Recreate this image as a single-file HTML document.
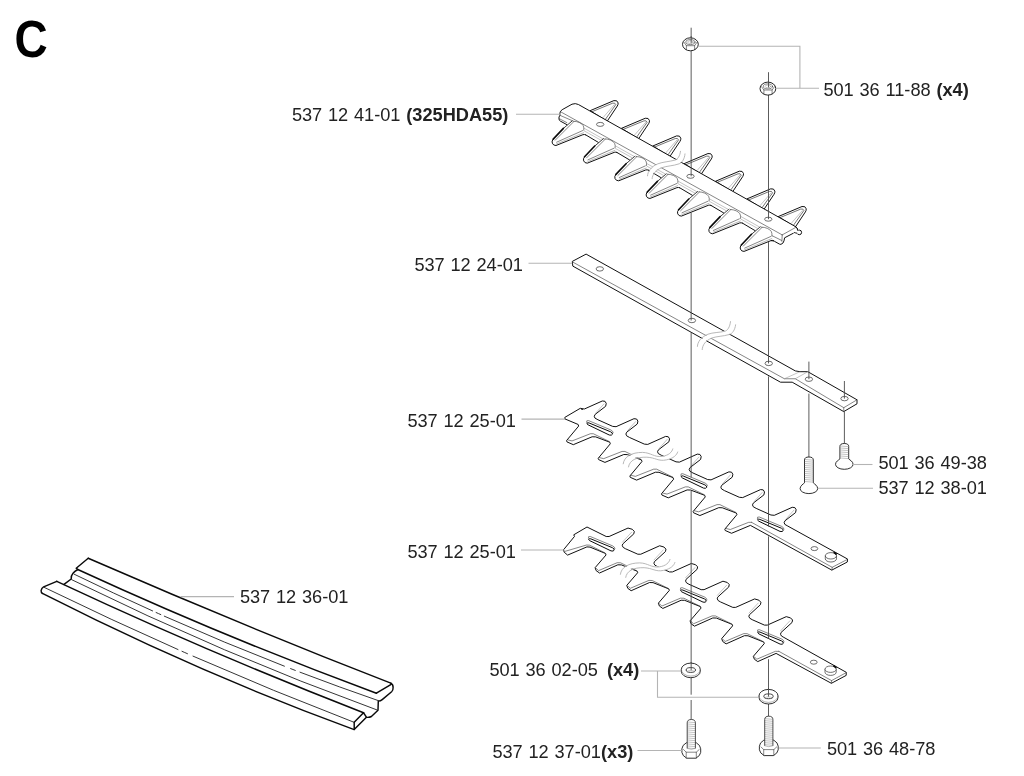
<!DOCTYPE html>
<html lang="en">
<head>
<meta charset="utf-8">
<title>C</title>
<style>
html,body{margin:0;padding:0;background:#fff;}
body{width:1024px;height:776px;overflow:hidden;font-family:"Liberation Sans",sans-serif;}
svg{display:block;will-change:transform;}
.k{fill:none;stroke:#0a0a0a;stroke-width:0.98;stroke-linejoin:round;stroke-linecap:round;}
.t{fill:none;stroke:#3a3a3a;stroke-width:0.62;stroke-linejoin:round;stroke-linecap:round;}
.l{fill:none;stroke:#888;stroke-width:0.5;stroke-linecap:round;}
.g{fill:none;stroke:#b4b4b4;stroke-width:1.1;}
.c{fill:none;stroke:#4a4a4a;stroke-width:0.9;}
.w{fill:#fff;stroke:#0a0a0a;stroke-width:0.98;stroke-linejoin:round;}
.wt{fill:#fff;stroke:#222;stroke-width:0.65;stroke-linejoin:round;}
.wf{fill:#fff;stroke:none;}
#guard .k{stroke-width:1.45;}
#guard .t{stroke-width:0.85;stroke:#111;}
.br{fill:none;stroke:#fff;stroke-width:5;stroke-linecap:round;}
.bl{fill:none;stroke:#b0b0b0;stroke-width:0.9;stroke-linecap:round;}
text{font-family:"Liberation Sans",sans-serif;font-size:18.2px;fill:#222;word-spacing:0.7px;}
.b{font-weight:bold;}
.big{font-size:51.2px;font-weight:bold;fill:#000;}
</style>
</head>
<body>
<svg width="1024" height="776" viewBox="0 0 1024 776">
<rect x="0" y="0" width="1024" height="776" fill="#fff"/>
<g id="guard">
<path class="wf" d="M88.2 558.22Q239.5 624.18 390.8 683.19 L393.1 687.3 L392.4 691 L381.5 700.2 L378.3 701.2 L378 710.5 L371.2 716.7 L366 717.2 L354.7 729.6 L42.4 593.45 L41.1 591.4 L42.9 587.3 L56.8 581.3 L64 584.4 L71.2 579 L71.2 575.9 L74.3 571.8 L77.9 569.7 L76.2 568.2 Z"/>
<path class="k" d="M88.2 558.22 Q239.5 624.18 390.8 683.19"/>
<path class="k" d="M77.8 569.49 Q227.1 638.24 376.4 693.2"/>
<path class="k" d="M56.8 581.33 Q210.15 653.18 363.5 712.72"/>
<path class="k" d="M42.4 593.45 Q198.3 672.72 354.2 729.58"/>
<path class="t" d="M71.8 579.74 Q224.4 654.61 377 709.95"/>
<path class="t" d="M74.2 574.21 Q113.4 593.29 152.6 610.93"/>
<path class="t" d="M156.1 612.51 Q158.45 613.56 160.8 614.61"/>
<path class="t" d="M164.3 616.17 Q224.35 642.87 284.4 666.2"/>
<path class="t" d="M290.6 668.6 Q292.95 669.51 295.3 670.41"/>
<path class="t" d="M300 672.2 Q339.25 687.17 378.5 700.69"/>
<path class="t" d="M44.4 587.48 Q111.2 619.99 178 649.54"/>
<path class="t" d="M182 651.31 Q184.75 652.52 187.5 653.73"/>
<path class="t" d="M193 656.14 Q273.6 691.4 354.2 722.35"/>
<path class="k" d="M88.2 558.22 L76.2 568.2 L77.8 569.49"/>
<path class="k" d="M77.8 569.49 Q74.5 571.3 73 573.3 Q70.8 576 71.2 579 L64 584.4"/>
<path class="k" d="M56.8 581.33 L43.6 586.9 Q41.5 588 41.1 590.6 Q41 592.6 42.4 593.45"/>
<path class="k" d="M390.8 683.19 Q393.3 684.6 393.1 687.6 Q393.2 690.4 391.6 691.8 L382.2 699.6 Q380.6 700.9 378.3 701.1 L378 710.3 L371.4 716.5 Q369.4 717.6 366.6 717.3 L363.5 712.72"/>
<path class="k" d="M376.4 693.2 L391.2 684.3"/>
<path class="k" d="M363.5 712.72 L354.2 722.35 L354.2 729.58 L366.2 717.5"/>
</g>
<g id="topblade">
<g transform="translate(0 0)"><path class="w" d="M590.1 110.7 L613.9 100.6 Q617.4 99.9 618.1 102.9 Q618.3 104.5 617.3 106 L607.2 121.2 Z"/><path class="t" style="stroke:#2a2a2a;stroke-width:0.65" d="M592 111.7 L612.6 103.2 Q615.2 102.5 615.8 104.6 L605.5 119.2"/><path class="l" d="M614.2 104.8 L603.2 117.4"/></g>
<g transform="translate(31.35 17.65)"><path class="w" d="M590.1 110.7 L613.9 100.6 Q617.4 99.9 618.1 102.9 Q618.3 104.5 617.3 106 L607.2 121.2 Z"/><path class="t" style="stroke:#2a2a2a;stroke-width:0.65" d="M592 111.7 L612.6 103.2 Q615.2 102.5 615.8 104.6 L605.5 119.2"/><path class="l" d="M614.2 104.8 L603.2 117.4"/></g>
<g transform="translate(62.7 35.3)"><path class="w" d="M590.1 110.7 L613.9 100.6 Q617.4 99.9 618.1 102.9 Q618.3 104.5 617.3 106 L607.2 121.2 Z"/><path class="t" style="stroke:#2a2a2a;stroke-width:0.65" d="M592 111.7 L612.6 103.2 Q615.2 102.5 615.8 104.6 L605.5 119.2"/><path class="l" d="M614.2 104.8 L603.2 117.4"/></g>
<g transform="translate(94.05 52.95)"><path class="w" d="M590.1 110.7 L613.9 100.6 Q617.4 99.9 618.1 102.9 Q618.3 104.5 617.3 106 L607.2 121.2 Z"/><path class="t" style="stroke:#2a2a2a;stroke-width:0.65" d="M592 111.7 L612.6 103.2 Q615.2 102.5 615.8 104.6 L605.5 119.2"/><path class="l" d="M614.2 104.8 L603.2 117.4"/></g>
<g transform="translate(125.4 70.6)"><path class="w" d="M590.1 110.7 L613.9 100.6 Q617.4 99.9 618.1 102.9 Q618.3 104.5 617.3 106 L607.2 121.2 Z"/><path class="t" style="stroke:#2a2a2a;stroke-width:0.65" d="M592 111.7 L612.6 103.2 Q615.2 102.5 615.8 104.6 L605.5 119.2"/><path class="l" d="M614.2 104.8 L603.2 117.4"/></g>
<g transform="translate(156.75 88.25)"><path class="w" d="M590.1 110.7 L613.9 100.6 Q617.4 99.9 618.1 102.9 Q618.3 104.5 617.3 106 L607.2 121.2 Z"/><path class="t" style="stroke:#2a2a2a;stroke-width:0.65" d="M592 111.7 L612.6 103.2 Q615.2 102.5 615.8 104.6 L605.5 119.2"/><path class="l" d="M614.2 104.8 L603.2 117.4"/></g>
<g transform="translate(188.1 105.9)"><path class="w" d="M590.1 110.7 L613.9 100.6 Q617.4 99.9 618.1 102.9 Q618.3 104.5 617.3 106 L607.2 121.2 Z"/><path class="t" style="stroke:#2a2a2a;stroke-width:0.65" d="M592 111.7 L612.6 103.2 Q615.2 102.5 615.8 104.6 L605.5 119.2"/><path class="l" d="M614.2 104.8 L603.2 117.4"/></g>
<path class="wf" d="M578.4 104.5 L795.7 226.7 L798 230.2 L794.5 232.6 L784.6 237.8 L784 240.8 L781 244.3 L779.3 244 L774.6 241.4 L773.7 240.7 L771 240.6 L744 251.4 L741.7 250.8 L740.1 247.5 L740.8 245.5 L754.95 230.55 L742.35 223.05 L739.65 222.95 L712.65 233.75 L710.35 233.15 L708.75 229.85 L709.45 227.85 L723.6 212.9 L711 205.4 L708.3 205.3 L681.3 216.1 L679 215.5 L677.4 212.2 L678.1 210.2 L692.25 195.25 L679.65 187.75 L676.95 187.65 L649.95 198.45 L647.65 197.85 L646.05 194.55 L646.75 192.55 L660.9 177.6 L648.3 170.1 L645.6 170 L618.6 180.8 L616.3 180.2 L614.7 176.9 L615.4 174.9 L629.55 159.95 L616.95 152.45 L614.25 152.35 L587.25 163.15 L584.95 162.55 L583.35 159.25 L584.05 157.25 L598.2 142.3 L585.6 134.8 L582.9 134.7 L555.9 145.5 L553.6 144.9 L552 141.6 L552.7 139.6 L566.85 124.65 L559.4 120.7 L559 118.4 L559.9 115.3 L559.9 112.6 L561.7 109.9 L572 104 L575.2 103.3 Z"/>
<path class="k" d="M795.7 226.7 L578.4 104.5 Q575.4 102.9 572 104.2 L562.2 109.7 Q560 111 559.9 113.2 L559.9 115.3 Q558.6 117 559 118.8 Q559 120.4 560.2 121 L566.85 124.65"/>
<path class="k" d="M795.7 226.7 Q797.6 228 798 230.2 M794.5 232.6 L784.6 237.8 L784 240.8 Q783.4 243.6 781 244.3 Q780 244.5 779.3 244 L774.6 241.4 Q773.6 240.6 771.6 240.7"/>
<circle class="w" cx="799.3" cy="232.4" r="2.3"/>
<path class="wf" d="M794 229 L798.6 230 L797.6 234.4 L793.4 233.4 Z"/>
<path class="k" d="M795.7 226.7 Q797.6 228 797.8 230.4 M796.9 233.2 Q795.6 233 794.5 232.6"/>
<g transform="translate(0 0)"><path class="k" style="stroke-width:0.8" d="M572.2 120.9 L563.4 128.4"/><path class="k" style="stroke-width:1.6" d="M563.4 128.4 L553.2 139.1"/><path class="k" d="M553.2 139.1 Q551.4 141.2 552.3 143.2 Q553.3 145.6 556 145.5 L582.9 134.7 Q584.4 134.2 585.6 134.8"/><path class="t" d="M574 121.4 L555.2 140.2 M556.6 142.2 L582.6 130.6"/><path class="l" style="stroke:#777" d="M556.4 144 L583.6 132.7"/><path class="t" d="M573.4 121.2 Q580.5 121.6 583.2 125.6 Q584.2 127.6 583.8 130.2"/></g>
<g transform="translate(31.35 17.65)"><path class="k" style="stroke-width:0.8" d="M572.2 120.9 L563.4 128.4"/><path class="k" style="stroke-width:1.6" d="M563.4 128.4 L553.2 139.1"/><path class="k" d="M553.2 139.1 Q551.4 141.2 552.3 143.2 Q553.3 145.6 556 145.5 L582.9 134.7 Q584.4 134.2 585.6 134.8"/><path class="t" d="M574 121.4 L555.2 140.2 M556.6 142.2 L582.6 130.6"/><path class="l" style="stroke:#777" d="M556.4 144 L583.6 132.7"/><path class="t" d="M573.4 121.2 Q580.5 121.6 583.2 125.6 Q584.2 127.6 583.8 130.2"/></g>
<g transform="translate(62.7 35.3)"><path class="k" style="stroke-width:0.8" d="M572.2 120.9 L563.4 128.4"/><path class="k" style="stroke-width:1.6" d="M563.4 128.4 L553.2 139.1"/><path class="k" d="M553.2 139.1 Q551.4 141.2 552.3 143.2 Q553.3 145.6 556 145.5 L582.9 134.7 Q584.4 134.2 585.6 134.8"/><path class="t" d="M574 121.4 L555.2 140.2 M556.6 142.2 L582.6 130.6"/><path class="l" style="stroke:#777" d="M556.4 144 L583.6 132.7"/><path class="t" d="M573.4 121.2 Q580.5 121.6 583.2 125.6 Q584.2 127.6 583.8 130.2"/></g>
<g transform="translate(94.05 52.95)"><path class="k" style="stroke-width:0.8" d="M572.2 120.9 L563.4 128.4"/><path class="k" style="stroke-width:1.6" d="M563.4 128.4 L553.2 139.1"/><path class="k" d="M553.2 139.1 Q551.4 141.2 552.3 143.2 Q553.3 145.6 556 145.5 L582.9 134.7 Q584.4 134.2 585.6 134.8"/><path class="t" d="M574 121.4 L555.2 140.2 M556.6 142.2 L582.6 130.6"/><path class="l" style="stroke:#777" d="M556.4 144 L583.6 132.7"/><path class="t" d="M573.4 121.2 Q580.5 121.6 583.2 125.6 Q584.2 127.6 583.8 130.2"/></g>
<g transform="translate(125.4 70.6)"><path class="k" style="stroke-width:0.8" d="M572.2 120.9 L563.4 128.4"/><path class="k" style="stroke-width:1.6" d="M563.4 128.4 L553.2 139.1"/><path class="k" d="M553.2 139.1 Q551.4 141.2 552.3 143.2 Q553.3 145.6 556 145.5 L582.9 134.7 Q584.4 134.2 585.6 134.8"/><path class="t" d="M574 121.4 L555.2 140.2 M556.6 142.2 L582.6 130.6"/><path class="l" style="stroke:#777" d="M556.4 144 L583.6 132.7"/><path class="t" d="M573.4 121.2 Q580.5 121.6 583.2 125.6 Q584.2 127.6 583.8 130.2"/></g>
<g transform="translate(156.75 88.25)"><path class="k" style="stroke-width:0.8" d="M572.2 120.9 L563.4 128.4"/><path class="k" style="stroke-width:1.6" d="M563.4 128.4 L553.2 139.1"/><path class="k" d="M553.2 139.1 Q551.4 141.2 552.3 143.2 Q553.3 145.6 556 145.5 L582.9 134.7 Q584.4 134.2 585.6 134.8"/><path class="t" d="M574 121.4 L555.2 140.2 M556.6 142.2 L582.6 130.6"/><path class="l" style="stroke:#777" d="M556.4 144 L583.6 132.7"/><path class="t" d="M573.4 121.2 Q580.5 121.6 583.2 125.6 Q584.2 127.6 583.8 130.2"/></g>
<g transform="translate(188.1 105.9)"><path class="k" style="stroke-width:0.8" d="M572.2 120.9 L563.4 128.4"/><path class="k" style="stroke-width:1.6" d="M563.4 128.4 L553.2 139.1"/><path class="k" d="M553.2 139.1 Q551.4 141.2 552.3 143.2 Q553.3 145.6 556 145.5 L582.9 134.7 Q584.4 134.2 585.6 134.8"/><path class="t" d="M574 121.4 L555.2 140.2 M556.6 142.2 L582.6 130.6"/><path class="l" style="stroke:#777" d="M556.4 144 L583.6 132.7"/><path class="t" d="M573.4 121.2 Q580.5 121.6 583.2 125.6 Q584.2 127.6 583.8 130.2"/></g>
<g transform="translate(0 0)"><path class="k" d="M585.6 134.8 L598.2 142.3"/><path class="l" d="M584 128.2 L603.2 139 M584.4 131 L600.6 140"/></g>
<g transform="translate(31.35 17.65)"><path class="k" d="M585.6 134.8 L598.2 142.3"/><path class="l" d="M584 128.2 L603.2 139 M584.4 131 L600.6 140"/></g>
<g transform="translate(62.7 35.3)"><path class="k" d="M585.6 134.8 L598.2 142.3"/><path class="l" d="M584 128.2 L603.2 139 M584.4 131 L600.6 140"/></g>
<g transform="translate(94.05 52.95)"><path class="k" d="M585.6 134.8 L598.2 142.3"/><path class="l" d="M584 128.2 L603.2 139 M584.4 131 L600.6 140"/></g>
<g transform="translate(125.4 70.6)"><path class="k" d="M585.6 134.8 L598.2 142.3"/><path class="l" d="M584 128.2 L603.2 139 M584.4 131 L600.6 140"/></g>
<g transform="translate(156.75 88.25)"><path class="k" d="M585.6 134.8 L598.2 142.3"/><path class="l" d="M584 128.2 L603.2 139 M584.4 131 L600.6 140"/></g>
<path class="t" d="M561.2 112.1 L782.2 234.9"/>
<path class="t" d="M559.9 115.3 L572.6 120.8 M559.2 118.6 L566.8 122.6"/>
<path class="t" d="M782.2 234.9 L795.4 227.6 M782.2 234.9 L781.9 241.4 M772.3 235.8 L781.6 240.4"/>
<ellipse class="wt" cx="600.2" cy="124.4" rx="3.7" ry="2"/>
<ellipse class="wt" cx="690.5" cy="176.3" rx="3.7" ry="2"/>
<ellipse class="wt" cx="768.3" cy="219.2" rx="3.7" ry="2"/>
<path class="br" style="stroke-width:4.2" d="M682.8 152.4 C682.3 157.5 679.8 161 677.2 161.9 C671 163.9 665 163.8 659.8 165.7 C653.3 168.3 650 173 649.8 177.4"/>
<path class="bl" d="M680.5 151.3 C680 156 677.5 159.4 675.3 160 C669 161.8 663 161.8 657.9 163.8 C651 166.6 647.7 171.5 647.5 175.8"/>
<path class="bl" d="M685 153.9 C684.6 159 682 162.6 679.2 163.8 C673 166 667 165.8 661.8 167.7 C655.6 170 652.3 174.6 652.1 178.7"/>
</g>
<g id="strap">
<path class="w" d="M586.1 254.1 L795.3 370.9 L800 371.7 L807.8 371.7 L857 399.8 L857 403.8 L843.75 411.6 L792.2 382.2 L780.5 382.2 L572.8 266.1 L572.3 261.4 Z"/>
<path class="t" d="M572.6 262 L784.4 378.75 L795.3 378.75 L843.75 407.7 L857 399.8 M843.75 407.7 L843.75 411.6"/>
<path class="l" d="M784.4 378.75 L800 371.7 M795.3 378.75 L807.8 371.7"/>
<ellipse class="wt" cx="599.8" cy="268.9" rx="3.7" ry="2.2"/>
<ellipse class="wt" cx="691.9" cy="320.5" rx="3.7" ry="2.2"/>
<ellipse class="wt" cx="768.75" cy="363.4" rx="3.7" ry="2.2"/>
<ellipse class="wt" cx="808.9" cy="379.2" rx="3.7" ry="2.2"/>
<ellipse class="wt" cx="844.5" cy="398.6" rx="3.7" ry="2.2"/>
<path class="br" style="stroke-width:4.2" d="M733.2 322.8 C732.5 328.5 730 332 727 332.9 C721 334.5 715 334.3 710 336.1 C703.3 338.8 700 343.5 699.8 348.4"/>
<path class="bl" d="M730.5 321.6 C730 327 727.5 330.6 724.8 331.3 C719 332.6 713 332.4 708 334.2 C701 337 697.5 342 697.4 346.4"/>
<path class="bl" d="M735.6 324.8 C735 330 732.5 333.6 729.3 334.5 C723 336.4 717 336.2 711.9 338 C705.5 340.6 702.4 345 702.2 349.6"/>
</g>
<g id="blade1">
<path class="w" d="M564.8 417.4 L580.3 408.3 L582.7 409.3 L581.05 408.68 L584.45 408.98 L602.3 400.98 L604.95 401.28 L606.25 403.38 L605.65 406.28 L595.05 414.48 L594.25 416.28 L594.95 418.08 L597.95 419.78 L612.7 426.4 L616.1 426.7 L633.95 418.7 L636.6 419 L637.9 421.1 L637.3 424 L626.7 432.2 L625.9 434 L626.6 435.8 L629.6 437.5 L644.35 444.12 L647.75 444.42 L665.6 436.42 L668.25 436.72 L669.55 438.82 L668.95 441.72 L658.35 449.92 L657.55 451.72 L658.25 453.52 L661.25 455.22 L676 461.84 L679.4 462.14 L697.25 454.14 L699.9 454.44 L701.2 456.54 L700.6 459.44 L690 467.64 L689.2 469.44 L689.9 471.24 L692.9 472.94 L707.65 479.56 L711.05 479.86 L728.9 471.86 L731.55 472.16 L732.85 474.26 L732.25 477.16 L721.65 485.36 L720.85 487.16 L721.55 488.96 L724.55 490.66 L739.3 497.28 L742.7 497.58 L760.55 489.58 L763.2 489.88 L764.5 491.98 L763.9 494.88 L753.3 503.08 L752.5 504.88 L753.2 506.68 L756.2 508.38 L770.95 515 L774.35 515.3 L792.2 507.3 L794.85 507.6 L796.15 509.7 L795.55 512.6 L784.95 520.8 L784.15 522.6 L784.85 524.4 L787.85 526.1 L847.5 559 L847.3 562 L831.8 570.1 L750.4 525.38 L731.55 533.28 L725.2 530.48 L724.8 529.18 L736.9 514.68 L736.4 513.08 L722.25 507.76 L718.75 507.66 L699.9 515.56 L693.55 512.76 L693.15 511.46 L705.25 496.96 L704.75 495.36 L690.6 490.04 L687.1 489.94 L668.25 497.84 L661.9 495.04 L661.5 493.74 L673.6 479.24 L673.1 477.64 L658.95 472.32 L655.45 472.22 L636.6 480.12 L630.25 477.32 L629.85 476.02 L641.95 461.52 L641.45 459.92 L627.3 454.6 L623.8 454.5 L604.95 462.4 L598.6 459.6 L598.2 458.3 L610.3 443.8 L609.8 442.2 L595.65 436.88 L592.15 436.78 L573.3 444.68 L566.95 441.88 L566.55 440.58 L578.65 426.08 L578.15 424.48 L564.9 418.9Z"/>
<path class="t" d="M567.75 439.88 L572.05 440.93 L590.4 433.73 L593.3 433.73 L609.25 441.53"/>
<path class="t" d="M599.4 457.6 L603.7 458.65 L622.05 451.45 L624.95 451.45 L640.9 459.25"/>
<path class="t" d="M631.05 475.32 L635.35 476.37 L653.7 469.17 L656.6 469.17 L672.55 476.97"/>
<path class="t" d="M662.7 493.04 L667 494.09 L685.35 486.89 L688.25 486.89 L704.2 494.69"/>
<path class="t" d="M694.35 510.76 L698.65 511.81 L717 504.61 L719.9 504.61 L735.85 512.41"/>
<path class="t" d="M726 528.48 L730.3 529.53 L748.65 522.33 L751.55 522.33"/>
<path class="t" d="M751.55 522.33 L832.2 567.3 L847.5 559.3"/>
<path class="t" d="M832.2 567.3 L831.9 570"/>
<path class="l" d="M603.95 403.88 L595.95 412.88"/>
<path class="l" d="M635.6 421.6 L627.6 430.6"/>
<path class="l" d="M667.25 439.32 L659.25 448.32"/>
<path class="l" d="M698.9 457.04 L690.9 466.04"/>
<path class="l" d="M730.55 474.76 L722.55 483.76"/>
<path class="l" d="M762.2 492.48 L754.2 501.48"/>
<path class="l" d="M793.85 510.2 L785.85 519.2"/>
<g transform="translate(-94.25 -53.1)"><path class="t" d="M680.8 475.5 Q680.3 473 682.8 473.7 L705.2 483.1 Q707.2 484 707.5 485.8"/><path class="w" style="stroke-width:1.0" d="M683.4 476.1 L704.9 484.9 Q707.1 485.9 706.7 487.3 Q706 488.8 703.5 488.1 L682.3 477.9 Q680.8 477 681.3 476.2 Q681.9 475.5 683.4 476.1 Z"/></g>
<g transform="translate(0 0)"><path class="t" d="M680.8 475.5 Q680.3 473 682.8 473.7 L705.2 483.1 Q707.2 484 707.5 485.8"/><path class="w" style="stroke-width:1.0" d="M683.4 476.1 L704.9 484.9 Q707.1 485.9 706.7 487.3 Q706 488.8 703.5 488.1 L682.3 477.9 Q680.8 477 681.3 476.2 Q681.9 475.5 683.4 476.1 Z"/></g>
<g transform="translate(76.5 43.3)"><path class="t" d="M680.8 475.5 Q680.3 473 682.8 473.7 L705.2 483.1 Q707.2 484 707.5 485.8"/><path class="w" style="stroke-width:1.0" d="M683.4 476.1 L704.9 484.9 Q707.1 485.9 706.7 487.3 Q706 488.8 703.5 488.1 L682.3 477.9 Q680.8 477 681.3 476.2 Q681.9 475.5 683.4 476.1 Z"/></g>
<ellipse class="wt" cx="814.4" cy="548.6" rx="3.4" ry="2"/>
<path class="wt" d="M825.3 555.8 L825.3 558.8 A5.6 3.2 0 0 0 836.5 558.8 L836.5 555.8 Z"/>
<ellipse class="wt" cx="830.9" cy="555.8" rx="5.6" ry="3.2"/>
<path class="k" style="stroke-width:1.8" d="M834.3 552.6 L836.1 554"/>
</g>
<g id="blade2">
<path class="w" d="M563.6 549.7 L574.5 536.4 L573.75 534.8 L587 527 L606.2 536.5 L609.1 536.5 L628 528.05 L632.3 529.3 L634.3 531.4 L633.8 533.85 L622.7 544 L622.3 545.7 L623.2 547.4 L625.6 548.8 L637.85 554.22 L640.75 554.22 L659.65 545.77 L663.95 547.02 L665.95 549.12 L665.45 551.57 L654.35 561.72 L653.95 563.42 L654.85 565.12 L657.25 566.52 L669.5 571.94 L672.4 571.94 L691.3 563.49 L695.6 564.74 L697.6 566.84 L697.1 569.29 L686 579.44 L685.6 581.14 L686.5 582.84 L688.9 584.24 L701.15 589.66 L704.05 589.66 L722.95 581.21 L727.25 582.46 L729.25 584.56 L728.75 587.01 L717.65 597.16 L717.25 598.86 L718.15 600.56 L720.55 601.96 L732.8 607.38 L735.7 607.38 L754.6 598.93 L758.9 600.18 L760.9 602.28 L760.4 604.73 L749.3 614.88 L748.9 616.58 L749.8 618.28 L752.2 619.68 L764.45 625.1 L767.35 625.1 L786.25 616.65 L790.55 617.9 L792.55 620 L792.05 622.45 L780.95 632.6 L780.55 634.3 L781.45 636 L783.85 637.4 L846.25 672.3 L846.2 675.4 L831.4 683.3 L776.1 653.4 L757.75 661.6 L754.35 659.2 L753.35 656.3 L764.25 643.6 L763.85 642.1 L748 635.78 L744.45 635.68 L726.1 643.88 L722.7 641.48 L721.7 638.58 L732.6 625.88 L732.2 624.38 L716.35 618.06 L712.8 617.96 L694.45 626.16 L691.05 623.76 L690.05 620.86 L700.95 608.16 L700.55 606.66 L684.7 600.34 L681.15 600.24 L662.8 608.44 L659.4 606.04 L658.4 603.14 L669.3 590.44 L668.9 588.94 L653.05 582.62 L649.5 582.52 L631.15 590.72 L627.75 588.32 L626.75 585.42 L637.65 572.72 L637.25 571.22 L621.4 564.9 L617.85 564.8 L599.5 573 L596.1 570.6 L595.1 567.7 L606 555 L605.6 553.5 L590 547.1 L586.9 546.9 L567.6 555.1 L564.2 552.2Z"/>
<path class="t" d="M596.2 568.4 L598.6 570.6 L617.2 562.7 L620.6 562.8 L636.4 570.6"/>
<path class="t" d="M627.85 586.12 L630.25 588.32 L648.85 580.42 L652.25 580.52 L668.05 588.32"/>
<path class="t" d="M659.5 603.84 L661.9 606.04 L680.5 598.14 L683.9 598.24 L699.7 606.04"/>
<path class="t" d="M691.15 621.56 L693.55 623.76 L712.15 615.86 L715.55 615.96 L731.35 623.76"/>
<path class="t" d="M722.8 639.28 L725.2 641.48 L743.8 633.58 L747.2 633.68 L763 641.48"/>
<path class="t" d="M754.45 657 L756.85 659.2 L775.45 651.3 L778.85 651.4"/>
<path class="t" d="M778.8 651.3 L831.6 680.6 L846.25 672.6"/>
<path class="t" d="M831.6 680.6 L831.4 683.2"/>
<path class="l" d="M631.6 532.2 L622.4 542.2"/>
<path class="l" d="M663.25 549.92 L654.05 559.92"/>
<path class="l" d="M694.9 567.64 L685.7 577.64"/>
<path class="l" d="M726.55 585.36 L717.35 595.36"/>
<path class="l" d="M758.2 603.08 L749 613.08"/>
<path class="l" d="M789.85 620.8 L780.65 630.8"/>
<g transform="translate(-92.5 62.8)"><path class="t" d="M680.8 475.5 Q680.3 473 682.8 473.7 L705.2 483.1 Q707.2 484 707.5 485.8"/><path class="w" style="stroke-width:1.0" d="M683.4 476.1 L704.9 484.9 Q707.1 485.9 706.7 487.3 Q706 488.8 703.5 488.1 L682.3 477.9 Q680.8 477 681.3 476.2 Q681.9 475.5 683.4 476.1 Z"/></g>
<g transform="translate(-0.5 114)"><path class="t" d="M680.8 475.5 Q680.3 473 682.8 473.7 L705.2 483.1 Q707.2 484 707.5 485.8"/><path class="w" style="stroke-width:1.0" d="M683.4 476.1 L704.9 484.9 Q707.1 485.9 706.7 487.3 Q706 488.8 703.5 488.1 L682.3 477.9 Q680.8 477 681.3 476.2 Q681.9 475.5 683.4 476.1 Z"/></g>
<g transform="translate(76.6 156)"><path class="t" d="M680.8 475.5 Q680.3 473 682.8 473.7 L705.2 483.1 Q707.2 484 707.5 485.8"/><path class="w" style="stroke-width:1.0" d="M683.4 476.1 L704.9 484.9 Q707.1 485.9 706.7 487.3 Q706 488.8 703.5 488.1 L682.3 477.9 Q680.8 477 681.3 476.2 Q681.9 475.5 683.4 476.1 Z"/></g>
<ellipse class="wt" cx="813.75" cy="662.2" rx="3.4" ry="2"/>
<path class="wt" d="M825 669.2 L825 672.2 A5.6 3.2 0 0 0 836.2 672.2 L836.2 669.2 Z"/>
<ellipse class="wt" cx="830.6" cy="669.2" rx="5.6" ry="3.2"/>
<path class="k" style="stroke-width:1.8" d="M834 666 L835.8 667.4"/>
<path class="t" d="M565.2 551.3 L586.6 545 L589.6 545.2 L604.8 552.8"/>
</g>
<g id="lines">
<path class="c" d="M691.15 27.7 V42.5"/>
<path class="c" d="M691.15 50.7 V176.3"/>
<path class="c" d="M691.15 212.6 V320.5"/>
<path class="c" d="M691.15 332.4 V477.6"/>
<path class="c" d="M691.15 490.7 V670"/>
<path class="c" d="M691.15 677.7 V694.7"/>
<path class="c" d="M691.15 700 V719.5"/>
<path class="c" d="M768.5 72.2 V86.8"/>
<path class="c" d="M768.5 95 V219.2"/>
<path class="c" d="M768.5 241.8 V363.4"/>
<path class="c" d="M768.5 376.4 V526.5"/>
<path class="c" d="M768.5 536.4 V638.8"/>
<path class="c" d="M768.5 659.2 V696.6"/>
<path class="c" d="M768.5 703.9 V716.2"/>
<path class="c" d="M808.9 361.6 V379.2"/>
<path class="c" d="M808.9 393.6 V457"/>
<path class="c" d="M844.4 381 V398.6"/>
<path class="c" d="M844.4 411.6 V443.5"/>
<g transform="translate(0 0)"><path class="br" style="stroke-width:4" d="M626 465 C627 458 634 454.6 644.5 454.8 C653 455 657 459.4 665 458 C672 456.6 674.6 453.6 675.4 450.4"/><path class="bl" d="M623.2 463.8 C624 456.6 631.6 452.4 642.5 452.4 C651 452.6 654 457.4 662 456.4 C669 455.4 672 452 672.8 448.9"/><path class="bl" d="M628.5 466.9 C629.4 460.4 636.4 456.8 646.9 457.2 C655.4 457.6 658.4 461.6 666.3 459.9 C673.6 458.4 676.8 455 677.7 452"/></g>
<g transform="translate(-2.8 110.5)"><path class="br" style="stroke-width:4" d="M626 465 C627 458 634 454.6 644.5 454.8 C653 455 657 459.4 665 458 C672 456.6 674.6 453.6 675.4 450.4"/><path class="bl" d="M623.2 463.8 C624 456.6 631.6 452.4 642.5 452.4 C651 452.6 654 457.4 662 456.4 C669 455.4 672 452 672.8 448.9"/><path class="bl" d="M628.5 466.9 C629.4 460.4 636.4 456.8 646.9 457.2 C655.4 457.6 658.4 461.6 666.3 459.9 C673.6 458.4 676.8 455 677.7 452"/></g>
</g>
<g id="hardware">
<g transform="translate(690.4 44.3)"><ellipse class="w" style="stroke-width:0.95;stroke:#1a1a1a" cx="0" cy="0" rx="7.9" ry="6.5"/><path class="t" d="M-6.4 -2 L-4 1.4 L4.2 1.4 L6.6 -2 M-4 1.4 L-4 5.4 M4.2 1.4 L4.2 5.4"/><ellipse class="t" cx="0" cy="-2.2" rx="4.6" ry="2.5"/><ellipse class="l" cx="0" cy="-2.2" rx="2.8" ry="1.4"/></g>
<g transform="translate(767.9 88.6)"><ellipse class="w" style="stroke-width:0.95;stroke:#1a1a1a" cx="0" cy="0" rx="7.9" ry="6.5"/><path class="t" d="M-6.4 -2 L-4 1.4 L4.2 1.4 L6.6 -2 M-4 1.4 L-4 5.4 M4.2 1.4 L4.2 5.4"/><ellipse class="t" cx="0" cy="-2.2" rx="4.6" ry="2.5"/><ellipse class="l" cx="0" cy="-2.2" rx="2.8" ry="1.4"/></g>
<g transform="translate(690.8 670.3)"><path class="w" style="stroke-width:0.9;stroke:#1a1a1a" d="M-9.5 -0.7 A9.5 6.5 0 0 1 9.5 -0.7 L9.5 0.9 A9.5 6.5 0 0 1 -9.5 0.9 Z"/><path class="l" style="stroke:#666" d="M-9.5 -0.7 A9.5 6.5 0 0 0 9.5 -0.7"/><ellipse cx="0" cy="-0.3" rx="4.7" ry="2.4" style="fill:#fff;stroke:#222;stroke-width:0.85"/><path class="l" d="M-3.4 0.9 A4.2 1.9 0 0 1 3.4 0.9"/></g>
<g transform="translate(768.5 696.6)"><path class="w" style="stroke-width:0.9;stroke:#1a1a1a" d="M-9.5 -0.7 A9.5 6.5 0 0 1 9.5 -0.7 L9.5 0.9 A9.5 6.5 0 0 1 -9.5 0.9 Z"/><path class="l" style="stroke:#666" d="M-9.5 -0.7 A9.5 6.5 0 0 0 9.5 -0.7"/><ellipse cx="0" cy="-0.3" rx="4.7" ry="2.4" style="fill:#fff;stroke:#222;stroke-width:0.85"/><path class="l" d="M-3.4 0.9 A4.2 1.9 0 0 1 3.4 0.9"/></g>
<path class="w" style="stroke-width:0.9;stroke:#1a1a1a" d="M804.5 482.8 L804.5 460 Q804.5 457 808.9 457 Q813.3 457 813.3 460 L813.3 482.8 C814.8 484.3 817.5 485.6 817.7 488.6 A8.8 5 0 0 1 800.1 488.6 C800.3 485.6 803 484.3 804.5 482.8 Z"/>
<path class="l" style="stroke:#888" d="M805.1 459.5 L812.7 460.1 M805.1 461.5 L812.7 462.1 M805.1 463.5 L812.7 464.1 M805.1 465.5 L812.7 466.1 M805.1 467.5 L812.7 468.1 M805.1 469.5 L812.7 470.1 M805.1 471.5 L812.7 472.1 M805.1 473.5 L812.7 474.1 M805.1 475.5 L812.7 476.1 M805.1 477.5 L812.7 478.1 M805.1 479.5 L812.7 480.1 M805.1 481.5 L812.7 482.1 "/>
<path class="w" style="stroke-width:0.9;stroke:#1a1a1a" d="M839.9 458.9 L839.9 446.5 Q839.9 443.5 844.3 443.5 Q848.7 443.5 848.7 446.5 L848.7 458.9 C850.2 460.4 852.9 461.3 853.1 464.3 A8.8 5 0 0 1 835.5 464.3 C835.7 461.3 838.4 460.4 839.9 458.9 Z"/>
<path class="l" style="stroke:#888" d="M840.5 446 L848.1 446.6 M840.5 448 L848.1 448.6 M840.5 450 L848.1 450.6 M840.5 452 L848.1 452.6 M840.5 454 L848.1 454.6 M840.5 456 L848.1 456.6 M840.5 458 L848.1 458.6 "/>
<g transform="translate(691.3 747.8)"><path class="w" style="stroke-width:0.9;stroke:#1a1a1a" d="M-9.4 1 Q-9.2 -2.6 -5 -5 L5 -5 Q9.2 -2.6 9.4 1 L9.4 4.6 Q9 8 4.6 10.4 L-4.6 10.4 Q-9 8 -9.4 4.6 Z"/><path class="t" d="M-7.8 1.7 L-5.1 4.4 L5 4.4 L7.9 1.7 M-5.1 4.4 V10.4 M5 4.4 V10.4"/></g>
<path class="wf" d="M687.2 748.4 L687.2 722.9 Q687.2 719.5 691.3 719.5 Q695.4 719.5 695.4 722.9 L695.4 748.4 Q691.3 750.4 687.2 748.4 Z"/>
<path class="l" style="stroke:#888" d="M687.8 722 L694.8 722.6 M687.8 724 L694.8 724.6 M687.8 726 L694.8 726.6 M687.8 728 L694.8 728.6 M687.8 730 L694.8 730.6 M687.8 732 L694.8 732.6 M687.8 734 L694.8 734.6 M687.8 736 L694.8 736.6 M687.8 738 L694.8 738.6 M687.8 740 L694.8 740.6 M687.8 742 L694.8 742.6 M687.8 744 L694.8 744.6 M687.8 746 L694.8 746.6 M687.8 748 L694.8 748.6 "/>
<path style="fill:none;stroke:#2a2a2a;stroke-width:0.85" d="M687.2 748.4 L687.2 722.9 Q687.2 719.5 691.3 719.5 Q695.4 719.5 695.4 722.9 L695.4 748.4"/>
<path class="l" style="stroke:#777" d="M687.2 748.4 Q691.3 750.4 695.4 748.4"/>
<g transform="translate(768.8 745.2)"><path class="w" style="stroke-width:0.9;stroke:#1a1a1a" d="M-9.4 1 Q-9.2 -2.6 -5 -5 L5 -5 Q9.2 -2.6 9.4 1 L9.4 4.6 Q9 8 4.6 10.4 L-4.6 10.4 Q-9 8 -9.4 4.6 Z"/><path class="t" d="M-7.8 1.7 L-5.1 4.4 L5 4.4 L7.9 1.7 M-5.1 4.4 V10.4 M5 4.4 V10.4"/></g>
<path class="wf" d="M764.7 745.8 L764.7 719.6 Q764.7 716.2 768.8 716.2 Q772.9 716.2 772.9 719.6 L772.9 745.8 Q768.8 747.8 764.7 745.8 Z"/>
<path class="l" style="stroke:#888" d="M765.3 718.7 L772.3 719.3 M765.3 720.7 L772.3 721.3 M765.3 722.7 L772.3 723.3 M765.3 724.7 L772.3 725.3 M765.3 726.7 L772.3 727.3 M765.3 728.7 L772.3 729.3 M765.3 730.7 L772.3 731.3 M765.3 732.7 L772.3 733.3 M765.3 734.7 L772.3 735.3 M765.3 736.7 L772.3 737.3 M765.3 738.7 L772.3 739.3 M765.3 740.7 L772.3 741.3 M765.3 742.7 L772.3 743.3 M765.3 744.7 L772.3 745.3 "/>
<path style="fill:none;stroke:#2a2a2a;stroke-width:0.85" d="M764.7 745.8 L764.7 719.6 Q764.7 716.2 768.8 716.2 Q772.9 716.2 772.9 719.6 L772.9 745.8"/>
<path class="l" style="stroke:#777" d="M764.7 745.8 Q768.8 747.8 772.9 745.8"/>
<path class="c" d="M691.15 36 V43.2"/>
<path class="c" d="M768.5 80.5 V87.4"/>
<path class="c" d="M691.15 662 V670.2"/>
<path class="c" d="M768.5 688 V696.6"/>
</g>
<g id="labels">
<text class="big" transform="translate(14.4 57.3) scale(0.898 1)" x="0" y="0">C</text>
<text x="291.9" y="121.4">537 12 41-01 <tspan class="b">(325HDA55)</tspan></text>
<text x="414.4" y="271.4">537 12 24-01</text>
<text x="407.4" y="426.7">537 12 25-01</text>
<text x="407.4" y="557.7">537 12 25-01</text>
<text x="239.9" y="602.9">537 12 36-01</text>
<text x="823.4" y="95.9">501 36 11-88 <tspan class="b">(x4)</tspan></text>
<text x="878.4" y="469.2">501 36 49-38</text>
<text x="878.4" y="493.9">537 12 38-01</text>
<text x="489.4" y="676.4">501 36 02-05&#160;&#160;<tspan class="b" dx="-2.6">(x4)</tspan></text>
<text x="492.4" y="758.4">537 12 37-01<tspan class="b">(x3)</tspan></text>
<text x="826.9" y="755.4">501 36 48-78</text>
<path class="g" d="M516 114.3 L560.3 114.3"/>
<path class="g" d="M528.5 263.3 L572.3 263.3"/>
<path class="g" d="M521.5 419.1 L565 419.1"/>
<path class="g" d="M521 550 L563.5 550"/>
<path class="g" d="M180.5 596.6 L234 596.6"/>
<path class="g" d="M699 46.2 L799.9 46.2 L799.9 88.2"/>
<path class="g" d="M776.4 88.2 L819 88.2"/>
<path class="g" d="M853 464.5 L872.5 464.5"/>
<path class="g" d="M818 488.3 L873 488.3"/>
<path class="g" d="M641 671 L681 671"/>
<path class="g" d="M657.5 671 L657.5 697.3 L758.5 697.3"/>
<path class="g" d="M637.5 750.5 L682 750.5"/>
<path class="g" d="M778.8 748 L820.8 748"/>
</g>
</svg>
</body>
</html>
